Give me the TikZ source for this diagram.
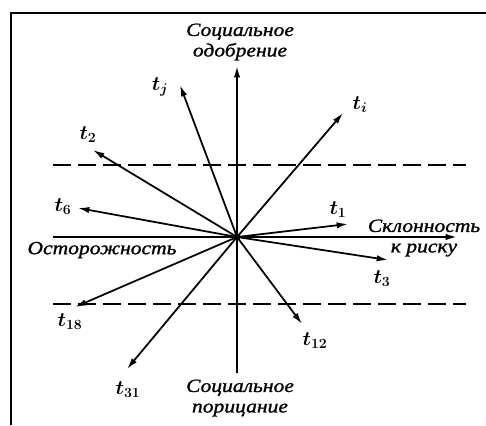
\documentclass[tikz,border=0pt]{standalone}
\usepackage{fontspec}
\setmainfont{Liberation Serif}
\newfontfamily\axfont[FakeStretch=1.15,FakeBold=1.2]{Liberation Serif}
\usetikzlibrary{arrows.meta}

\begin{document}
\begin{tikzpicture}[x=0.03cm,y=-0.03cm,line width=1.5pt,>={Latex[length=3.4mm,width=1.9mm]},
  axlabel/.style={font=\axfont\itshape\fontsize{16}{17.5}\selectfont,align=center,inner sep=0pt},
  tlabel/.style={font=\boldmath\fontsize{18}{20}\selectfont,inner sep=0pt},
  limit/.style={dash pattern=on 5.4mm off 2.1mm}]
  \useasboundingbox (0,0) rectangle (486,425);
  % ===== рамка =====
  \draw (11,425) -- (11,13) -- (486,13);
  % ===== оси =====
  \coordinate (O) at (237,237);
  \coordinate (Ytop) at (237,66);
  \coordinate (Ybot) at (237,373);
  \coordinate (Xl) at (53,237);
  \coordinate (Xr) at (457,237);
  \draw[->] (Ybot) -- (Ytop);
  \draw[->] (Xl) -- (Xr);
  \node[axlabel] (up) at (240,42) {Социальное\\одобрение};
  \node[axlabel] (down) at (240,398) {Социальное\\порицание};
  \node[axlabel] (right) at (424,238) {Склонность\\к риску};
  \node[axlabel] (left) at (102,250) {Осторожность};
  % ===== пределы =====
  \coordinate (A1) at (53,165);
  \coordinate (A2) at (466,165);
  \coordinate (B1) at (53,304);
  \coordinate (B2) at (466,304);
  \draw[limit] (A1) -- (A2);
  \draw[limit] (B1) -- (B2);
  % ===== векторы =====
  \node[tlabel] (tj) at (160,87) {$t_j$};
  \node[tlabel] (ti) at (360,105) {$t_i$};
  \node[tlabel] (t2) at (88,135) {$t_2$};
  \node[tlabel] (t6) at (63,207) {$t_6$};
  \node[tlabel] (t1) at (338,210) {$t_1$};
  \node[tlabel] (t3) at (382,279) {$t_3$};
  \node[tlabel] (t18) at (70,322) {$t_{18}$};
  \node[tlabel] (t31) at (128,390) {$t_{31}$};
  \node[tlabel] (t12) at (315,341) {$t_{12}$};
  \coordinate (ej) at (180,85);
  \coordinate (ei) at (343,113);
  \coordinate (e2) at (93,150);
  \coordinate (e6) at (78,208);
  \coordinate (e1) at (348,224);
  \coordinate (e3) at (388,260);
  \coordinate (e18) at (75,307);
  \coordinate (e31) at (127,369);
  \coordinate (e12) at (302,324);
  \foreach \e in {ej,ei,e2,e6,e1,e3,e18,e31,e12}
    \draw[->] (O) -- (\e);
  \fill (O) circle(3.5);
\end{tikzpicture}
\end{document}
